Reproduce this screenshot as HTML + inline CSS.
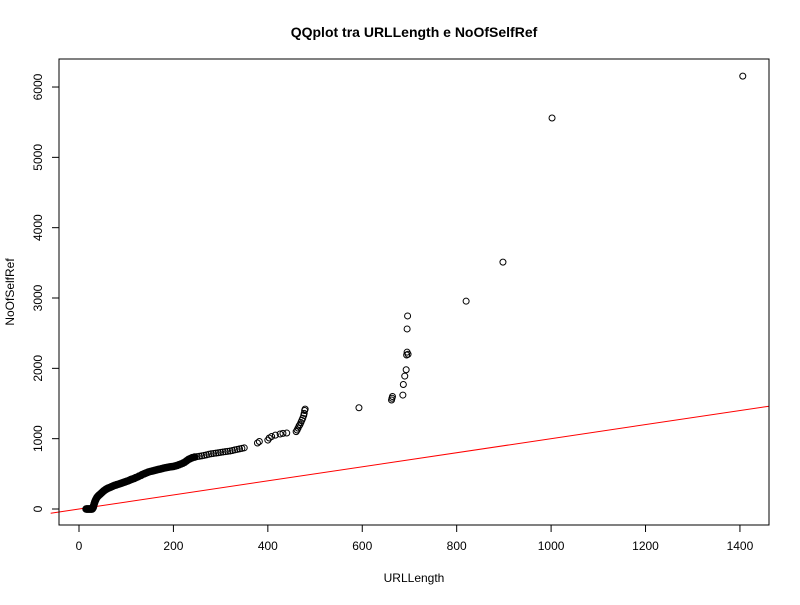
<!DOCTYPE html>
<html><head><meta charset="utf-8"><style>
body{margin:0;background:#fff;}
svg text{font-family:"Liberation Sans",Arial,sans-serif;fill:#000;}
</style></head><body>
<svg id="chart" width="800" height="600" viewBox="0 0 800 600" xmlns="http://www.w3.org/2000/svg">
<rect width="800" height="600" fill="#fff"/>
<text x="414" y="37" text-anchor="middle" font-size="14" font-weight="bold">QQplot tra URLLength e NoOfSelfRef</text>
<text x="414" y="582" text-anchor="middle" font-size="12">URLLength</text>
<text transform="translate(14,292) rotate(-90)" text-anchor="middle" font-size="12">NoOfSelfRef</text>
<g id="axes"></g>
<g id="refline"></g>
<g id="points"></g>
<rect x="59" y="59" width="710" height="466" fill="none" stroke="#000" stroke-width="1"/>
</svg>
<script>
const xTicks=[0,200,400,600,800,1000,1200,1400];
const yTicks=[0,1000,2000,3000,4000,5000,6000];
const xVals=[15,16,17,18,19,20,21,22,23,24,25,26,27,28,29,30,31,32,33,34,35,36,38,40,42,44,46,48,50,52,54,56,58,60,62,65,68,70,72,75,78,80,83,86,89,92,95,98,101,104,107,110,113,117,120,124,127,131,134,138,141,145,148,152,156,160,164,168,172,176,180,184,188,192,196,200,204,208,212,216,220,224,228,232,236,240,245,250,255,260,265,270,275,280,285,290,295,300,305,310,315,320,325,330,335,340,345,350,378,382,400,403,408,416,426,432,440,460,462,464,466,468,470,472,474,476,477,478,479,593,662,663,664,686,687,690,693,694,695,695,696,697,820,898,1002,1406];
const yVals=[0,0,0,0,0,0,0,0,0,0,0,0,0,0,10,20,45,70,90,110,125,140,165,180,195,205,218,230,243,255,265,275,283,290,297,305,313,320,327,335,341,345,352,358,365,372,379,386,393,400,409,418,426,435,445,455,466,478,489,500,510,520,528,535,541,548,555,562,568,575,582,588,593,598,601,605,612,620,630,640,652,665,685,705,718,730,738,745,750,755,762,770,778,785,790,795,800,805,810,815,820,825,832,840,848,855,862,870,938,960,980,1010,1030,1050,1066,1075,1080,1100,1123,1150,1180,1200,1230,1260,1290,1330,1360,1400,1420,1440,1550,1575,1600,1620,1770,1890,1980,2190,2230,2560,2745,2200,2955,3510,5560,6155];
const xs=v=>79+v*0.4721;
const ys=v=>509-v*0.07033;
const NS="http://www.w3.org/2000/svg";
function mk(tag,attrs,parent){const e=document.createElementNS(NS,tag);for(const k in attrs)e.setAttribute(k,attrs[k]);parent.appendChild(e);return e;}
const axes=document.getElementById('axes');
mk('line',{x1:xs(xTicks[0]),x2:xs(xTicks[xTicks.length-1]),y1:525,y2:525,stroke:'#000'},axes);
xTicks.forEach(t=>{
  const l=mk('line',{x1:xs(t),x2:xs(t),y1:525,y2:532,stroke:'#000'},axes);
  
  
  const tx=mk('text',{x:xs(t),y:550,'text-anchor':'middle','font-size':12},axes);
  tx.textContent=t;
  
  
});
mk('line',{x1:59,x2:59,y1:ys(yTicks[0]),y2:ys(yTicks[yTicks.length-1]),stroke:'#000'},axes);
yTicks.forEach(t=>{
  const l=mk('line',{x1:52,x2:59,y1:ys(t),y2:ys(t),stroke:'#000'},axes);
  
  
  const tx=mk('text',{transform:`translate(42,${ys(t)}) rotate(-90)`,'text-anchor':'middle','font-size':12},axes);
  tx.textContent=t;
  
  
});
const rl=mk('line',{x1:xs(-60),y1:ys(-60),x2:769,y2:ys((769-79)/0.4721),stroke:'#ff0000','stroke-width':1},document.getElementById('refline'));


const pts=document.getElementById('points');
xVals.forEach((x,i)=>{
  const dense=x<250;
  const c=mk('circle',{cx:xs(x),cy:ys(yVals[i]),r:3,fill:dense?'#000':'none',stroke:'#000','stroke-width':dense?1.6:1},pts);
  
  
});
</script>
</body></html>
